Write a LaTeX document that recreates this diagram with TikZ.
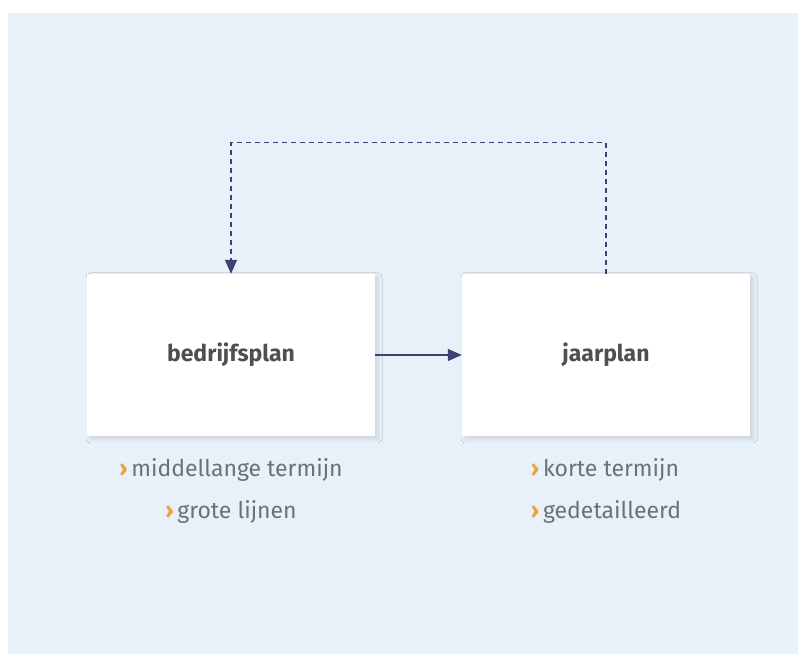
\documentclass[tikz,border=0pt]{standalone}
\usepackage{fontspec}
\setmainfont{Fira Sans}
\usetikzlibrary{positioning,arrows.meta,shadows.blur}

\definecolor{paneel}{HTML}{E8F0FA}
\definecolor{pijlblauw}{HTML}{3E4173}
\definecolor{tekstgrijs}{HTML}{4D4F52}
\definecolor{lichtgrijs}{HTML}{6C7178}
\definecolor{oranje}{HTML}{E9A43F}

\newcommand{\pijltje}{{\color{oranje}\bfseries ›}\,}

\tikzset{
  planblok/.style={fill=white, minimum width=288pt, minimum height=162pt,
    inner sep=0pt, text=tekstgrijs, font=\fontsize{23}{27}\selectfont\bfseries,
    blur shadow={shadow xshift=3pt, shadow yshift=-3pt,
      shadow blur radius=4pt, shadow opacity=12}},
  kenmerk/.style={inner sep=0pt, text=lichtgrijs,
    font=\fontsize{23}{42}\selectfont},
  verbinding/.style={pijlblauw, line width=1.3pt,
    -{Triangle[width=12pt,length=14pt]}},
  terugkoppeling/.style={verbinding, line width=1.1pt,
    dash pattern=on 5pt off 4pt},
}

\begin{document}
\begin{tikzpicture}[x=1pt,y=1pt]

% ============================
% PANEL
% ============================

\useasboundingbox (0,0) rectangle (798,654);
\fill[paneel] (8,0) rectangle (798,641);

% ============================
% PLANS
% ============================

\node[planblok] (bedrijf) at (231,299) {bedrijfsplan};
\node[planblok] (jaar) at (606,299) {jaarplan};

% ============================
% CHARACTERISTICS
% ============================

\node[kenmerk, align=center, below=22pt of bedrijf] (bedrijfkenmerk)
  {\pijltje middellange termijn\\\pijltje grote lijnen};
\node[kenmerk, align=left, below=22pt of jaar] (jaarkenmerk)
  {\pijltje korte termijn\\\pijltje gedetailleerd};

% ============================
% CONNECTIONS
% ============================

\draw[verbinding] (bedrijf.east) -- (jaar.west);
\draw[terugkoppeling] (jaar.north) -- ++(0,131) -| (bedrijf.north);

\end{tikzpicture}
\end{document}
